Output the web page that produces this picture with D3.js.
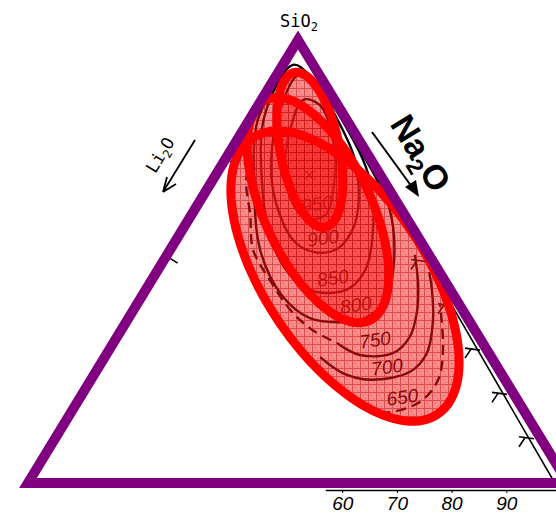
<!DOCTYPE html>
<html>
<head>
<meta charset="utf-8">
<script src="https://cdn.jsdelivr.net/npm/d3@7"></script>
<style>
  html, body { margin: 0; padding: 0; background: #fff; }
  svg { display: block; }
</style>
</head>
<body>
<svg id="chart" width="556" height="516"></svg>
<script>
// ---- Ternary SiO2 – Na2O – Li2O, compositions as [SiO2, Na2O] in mol % (Li2O = rest)

// Isotherms (°C) of the liquidus surface
const isothermLevels = [950, 900, 850, 800, 750, 700, 650];
const iso950 = [[86.5,7.7],[79.7,8.7],[70.7,12.3],[63.9,16.8],[59.8,21.4],[60.5,24.8],[67.3,23.0],[77.4,17.8],[85.3,11.4]];
const iso900 = [[92.1,4.0],[81.9,5.2],[69.5,10.3],[60.5,16.4],[54.4,22.2],[52.1,27.1],[52.6,30.6],[56.0,31.6],[61.6,30.3],[72.9,24.1],[83.1,15.3],[91.0,7.6]];
const iso850 = [[94.4,1.9],[83.1,2.3],[68.4,9.1],[56.0,16.8],[48.5,23.3],[44.0,29.3],[42.9,34.5],[44.0,37.6],[48.1,38.4],[54.9,36.3],[68.4,29.1],[80.8,18.3],[91.4,6.9]];
const iso800 = [[95.5,0.8],[81.9,1.6],[68.4,7.7],[52.6,16.7],[42.4,25.8],[37.2,33.6],[36.3,39.6],[37.2,43.8],[41.3,45.5],[48.1,43.6],[61.6,36.2],[75.2,23.9]];
const iso750Dashed = [[74.0,4.5],[68.4,6.2],[60.5,10.9],[52.6,15.4],[45.8,21.9],[38.6,29.6],[34.5,35.5],[31.6,41.4]];
const iso750 = [[31.6,41.4],[28.9,47.0],[29.3,52.9],[33.0,54.2],[38.4,52.8],[44.7,49.9],[51.5,45.9]];
const iso700 = [[28.4,39.9],[24.8,45.9],[23.3,51.7],[25.1,58.2],[29.3,59.2],[36.8,56.6],[43.6,53.0],[47.6,50.5]];
const iso650Dashed = [[16.9,54.0],[15.8,57.8],[18.3,63.4],[23.3,64.3],[30.5,61.6],[40.2,56.2]];

// Label anchor of each isotherm
const labelSiO2 = [63.0, 55.3, 46.3, 40.2, 32.3, 26.2, 19.4];
const labelNa2O = [22.0, 27.0, 33.3, 40.6, 48.1, 53.4, 59.6];

// Liquidus maximum
const maximumPoint = [69.5, 17.3];

// Glass-forming fields: centre, semi-axes (mol %) and tilt (deg)
const fieldSiO2  = [46.7, 61.6, 75.2];
const fieldNa2O  = [35.35, 22.9, 14.6];
const fieldMajor = [32.0, 23.6, 15.4];
const fieldMinor = [15.1, 10.0, 5.5];
const fieldTilt  = [-58.4, -66.6, -79.4];

// Edge scales
const baseTicks = [60, 70, 80, 90];
const rightEdgeTicks = [50, 40, 30, 20, 10];   // SiO2 along the SiO2–Na2O side
const leftEdgeTicks = [73, 51];                // SiO2 along the SiO2–Li2O side

// ---- scales
const H = Math.sqrt(3) / 2;
const x = d3.scaleLinear().domain([0, 1]).range([28, 568]);
const y = d3.scaleLinear().domain([0, H]).range([483, 40]);
const project = ([si, na]) => [x(na / 100 + si / 200), y(si / 100 * H)];
const baseScale = d3.scaleLinear().domain([0, 100]).range([14, 561]);

const svg = d3.select("#chart");
svg.append("rect").attr("width", 556).attr("height", 516).attr("fill", "#fff");

const defs = svg.append("defs");
const pat = defs.append("pattern").attr("id", "grid")
  .attr("patternUnits", "userSpaceOnUse").attr("width", 8).attr("height", 8);
pat.append("path").attr("d", "M8 0.5H0.5V8").attr("fill", "none")
  .attr("stroke", "rgba(175,0,0,0.45)").attr("stroke-width", 1);
pat.append("rect").attr("x", 3).attr("y", 3).attr("width", 1).attr("height", 1).attr("fill", "rgba(150,0,0,0.35)");
pat.append("rect").attr("x", 5).attr("y", 6).attr("width", 1).attr("height", 1).attr("fill", "rgba(150,0,0,0.3)");

const curveOpen = d3.line().curve(d3.curveCatmullRom.alpha(0.5));
const curveClosed = d3.line().curve(d3.curveCatmullRomClosed.alpha(0.5));

// ---- scanned frame lines and edge ticks
const frame = svg.append("g").attr("stroke", "#000").attr("fill", "none").attr("stroke-width", 1.6);
const apex = project([100, 0]);
frame.append("line").attr("x1", apex[0] - 1).attr("y1", apex[1] - 2)
  .attr("x2", baseScale(99.5)).attr("y2", 489);
frame.append("line").attr("x1", baseScale(57)).attr("y1", 490.5)
  .attr("x2", baseScale(100)).attr("y2", 490.5);

rightEdgeTicks.forEach(s => {
  const [px, py] = project([s, 100 - s]);
  const bx = px - 7;
  frame.append("path").attr("d", `M${bx},${py} L${bx - 15},${py - 2} M${bx - 9},${py - 1} L${bx - 15},${py + 8}`);
});
leftEdgeTicks.forEach(s => {
  const [px, py] = project([s, 0]);
  frame.append("path").attr("d", `M${px + 4},${py + 1} L${px + 12},${py + 6}`);
});

// ---- isotherms
const iso = svg.append("g").attr("fill", "none").attr("stroke", "#000").attr("stroke-width", 2.4);
[iso950, iso900, iso850].forEach(c => iso.append("path").attr("d", curveClosed(c.map(project))));
[iso800, iso750, iso700].forEach(c => iso.append("path").attr("d", curveOpen(c.map(project))));
[iso750Dashed, iso650Dashed].forEach(c => iso.append("path")
  .attr("d", curveOpen(c.map(project))).attr("stroke-dasharray", "10,6"));

const labels = svg.append("g")
  .attr("font-family", "'Liberation Sans', Arial, sans-serif")
  .attr("font-style", "italic").attr("font-size", 19).attr("fill", "#000")
  .attr("text-anchor", "middle");
isothermLevels.forEach((t, i) => {
  const [px, py] = project([labelSiO2[i], labelNa2O[i]]);
  labels.append("text").attr("transform", `translate(${px},${py}) rotate(-8)`)
    .attr("dy", "0.35em").text(t);
});
const [mx, my] = project(maximumPoint);
svg.append("text").attr("x", mx).attr("y", my).attr("dy", "0.35em")
  .attr("text-anchor", "middle").attr("font-family", "'DejaVu Sans', sans-serif")
  .attr("font-size", 15).attr("fill", "#000").text("×");

// ---- glass-forming fields
function fieldPoints(i) {
  const cu = fieldNa2O[i] / 100 + fieldSiO2[i] / 200, cv = fieldSiO2[i] / 100 * H;
  const a = fieldMajor[i] / 100, b = fieldMinor[i] / 100, phi = fieldTilt[i] * Math.PI / 180;
  return d3.range(0, 360, 3).map(deg => {
    const t = deg * Math.PI / 180;
    const u = cu + a * Math.cos(t) * Math.cos(phi) - b * Math.sin(t) * Math.sin(phi);
    const v = cv + a * Math.cos(t) * Math.sin(phi) + b * Math.sin(t) * Math.cos(phi);
    return [x(u), y(v)];
  });
}
const fieldLine = d3.line().curve(d3.curveLinearClosed);
const fields = svg.append("g");
fieldSiO2.forEach((_, i) => {
  const d = fieldLine(fieldPoints(i));
  fields.append("path").attr("d", d).attr("fill", "rgba(250,25,25,0.5)");
  fields.append("path").attr("d", d).attr("fill", "url(#grid)");
});
fieldSiO2.forEach((_, i) => {
  fields.append("path").attr("d", fieldLine(fieldPoints(i)))
    .attr("fill", "none").attr("stroke", "#ff0000").attr("stroke-width", 9);
});

// ---- base scale
const axis = svg.append("g").attr("transform", "translate(0,490)")
  .call(d3.axisBottom(baseScale).tickValues(baseTicks).tickSize(3).tickPadding(4));
axis.select(".domain").remove();
axis.selectAll("text").attr("font-family", "'Liberation Sans', Arial, sans-serif")
  .attr("font-style", "italic").attr("font-size", 19).attr("fill", "#000");

// ---- triangle outline
const corners = [[100, 0], [0, 100], [0, 0]];
svg.append("path").attr("d", "M" + corners.map(project).join("L") + "Z")
  .attr("fill", "none").attr("stroke", "#800080").attr("stroke-width", 10)
  .attr("stroke-linejoin", "miter").attr("stroke-miterlimit", 10);

// ---- component labels
svg.append("text").attr("x", apex[0] + 1).attr("y", 27).attr("text-anchor", "middle")
  .attr("font-family", "'DejaVu Sans Mono', 'Liberation Mono', monospace").attr("font-size", 17)
  .call(t => {
    t.append("tspan").text("SiO");
    t.append("tspan").attr("font-size", 12).attr("dy", 4).text("2");
  });

const li = svg.append("g").attr("transform", "translate(160,155) rotate(-58.6)");
li.append("text").attr("text-anchor", "middle").attr("y", 6)
  .attr("font-family", "'DejaVu Sans Mono', 'Liberation Mono', monospace").attr("font-size", 17)
  .call(t => {
    t.append("tspan").text("Li");
    t.append("tspan").attr("font-size", 12).attr("dy", 4).text("2");
    t.append("tspan").attr("dy", -4).text("O");
  });
svg.append("path").attr("d", "M195,140 L163,192 M163,192 L167,177 M163,192 L176,184")
  .attr("fill", "none").attr("stroke", "#000").attr("stroke-width", 1.8);

const na = svg.append("g").attr("transform", "translate(421,153) rotate(58.6)");
na.append("text").attr("text-anchor", "middle").attr("y", 12)
  .attr("font-family", "'Liberation Sans', Arial, sans-serif").attr("font-weight", "bold")
  .attr("font-size", 34)
  .call(t => {
    t.append("tspan").text("Na");
    t.append("tspan").attr("font-size", 23).attr("dy", 8).text("2");
    t.append("tspan").attr("dy", -8).text("O");
  });
svg.append("line").attr("x1", 372).attr("y1", 132).attr("x2", 412).attr("y2", 187)
  .attr("stroke", "#000").attr("stroke-width", 2);
svg.append("path").attr("d", "M419,197 L405,187 L416,180 Z").attr("fill", "#000");
</script>
</body>
</html>
